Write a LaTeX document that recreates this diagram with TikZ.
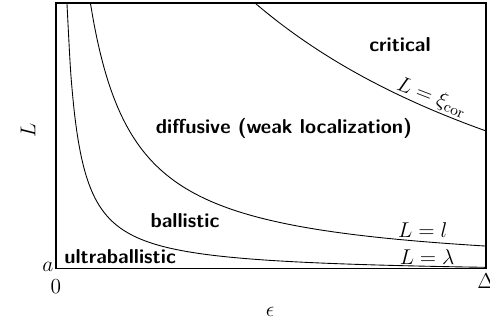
\RequirePackage{fix-cm}
\documentclass[tikz,border=0pt]{standalone}
\begin{document}
\begin{tikzpicture}[x=9.46cm, y=5.85cm, font=\fontsize{13.4}{16}\selectfont, >=latex,
  region/.style={font=\fontsize{12.6}{15}\selectfont\sffamily\bfseries},
  crossover/.style={line width=0.55pt}]
  \useasboundingbox (-0.1302,-0.2105) rectangle (1.0093,1.0113);

  % ---- Rahmen und Achsen ----
  \draw[line width=0.65pt] (0,0) rectangle (1,1);
  \node[anchor=east, inner sep=1.5pt] (a) at (0,0.006) {$a$};
  \node (zero) at (0,-0.068) {$0$};
  \node (gap) at (1,-0.045) {$\Delta$};
  \node (eps) at (0.498,-0.162) {$\epsilon$};
  \node[rotate=90] (len) at (-0.065,0.52) {$L$};

  % ---- Kurven ----
  \draw[crossover, domain=0.0255:1, samples=120, smooth]
    plot (\x, {0.026/\x - 0.02});
  \draw[crossover, domain=0.0798:1, samples=120, smooth]
    plot (\x, {0.1022/(\x + 0.0208) - 0.0141});
  \draw[crossover, domain=0.463:1, samples=80, smooth]
    plot (\x, {1.327/(\x + 0.515) - 0.357});

  % ---- Bereiche ----
  \node[region] (crit) at (0.8,0.842) {critical};
  \node[region] (diff) at (0.53,0.53) {diffusive (weak localization)};
  \node[region] (ball) at (0.3,0.18) {ballistic};
  \node[region] (ultra) at (0.149,0.045) {ultraballistic};

  % ---- Kurvenbeschriftung ----
  \node[rotate=-21, inner sep=1pt] (xi) at (0.874,0.645) {$L=\xi_{\mathrm{cor}}$};
  \node[inner sep=1pt] (mfp) at (0.853,0.147) {$L=l$};
  \node[inner sep=1pt] (wave) at (0.863,0.045) {$L=\lambda$};
\end{tikzpicture}
\end{document}
